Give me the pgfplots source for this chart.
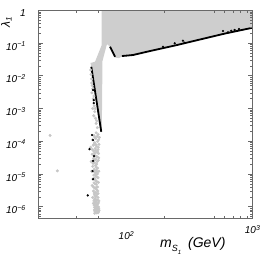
\documentclass[border=0pt]{standalone}
\usepackage{fontspec}
\setmainfont{Liberation Sans}
\usepackage{pgfplots}
\pgfplotsset{compat=1.18}
\definecolor{shade}{RGB}{206,206,206}
\definecolor{dotgray}{RGB}{198,198,198}
\definecolor{framec}{RGB}{105,105,105}
\begin{document}
\begin{tikzpicture}
\path[use as bounding box] (-38.3pt,-38.7pt) rectangle (227.7pt,218.3pt);
\begin{axis}[
  at={(0pt,0pt)}, anchor=south west,
  scale only axis, width=214.4pt, height=208pt,
  xmode=log, ymode=log,
  xmin=20, xmax=1000, ymin=4.4e-7, ymax=1,
  axis on top,
  axis line style={framec, line width=0.6pt},
  tick style={framec, line width=0.5pt},
  major tick length=4.5pt, minor tick length=2.5pt,
  xtick={100,1000},
  xticklabels={10\textsuperscript{2}, \raisebox{6pt}{10\textsuperscript{3}}},
  minor xtick={40,60,200,500,600,700,800,900},
  major x tick style={draw=none},
  ytick={1e-6,1e-5,1e-4,1e-3,1e-2,1e-1,1},
  yticklabels={10\textsuperscript{−6},10\textsuperscript{−5},10\textsuperscript{−4},10\textsuperscript{−3},10\textsuperscript{−2},10\textsuperscript{−1},1\hspace{-7pt}},
  minor ytick={5e-7,6e-7,7e-7,8e-7,9e-7,
    2e-6,3e-6,4e-6,5e-6,6e-6,7e-6,8e-6,9e-6,
    2e-5,3e-5,4e-5,5e-5,6e-5,7e-5,8e-5,9e-5,
    2e-4,3e-4,4e-4,5e-4,6e-4,7e-4,8e-4,9e-4,
    2e-3,3e-3,4e-3,5e-3,6e-3,7e-3,8e-3,9e-3,
    2e-2,3e-2,4e-2,5e-2,6e-2,7e-2,8e-2,9e-2,
    2e-1,3e-1,4e-1,5e-1,6e-1,7e-1,8e-1,9e-1},
  xticklabel style={font=\fontsize{10}{10}\selectfont\itshape, anchor=base, yshift=-21.5pt},
  yticklabel style={font=\fontsize{10}{10}\selectfont\itshape, xshift=-9pt, yshift=-3pt},
]
% allowed region
\addplot[fill=shade, draw=none] coordinates {
 (63.6,1) (1000,1) (1000,0.294) (603,0.195) (382,0.128) (241.8,0.0839)
 (153.5,0.0569) (112.5,0.043) (93.8,0.040) (87,0.0345) (81.1,0.036)
 (74.0,0.078) (70.0,0.093) (64.5,0.028) (63.7,1.9e-4) (62.2,1.9e-4)
 (52.6,0.0198) (51.8,0.0245) (56.3,0.0268) (63.6,0.0869)
} -- cycle;
% grey scattered points
\addplot[only marks, mark=*, mark size=1.3pt, color=dotgray] coordinates {
 (52.0,1.5e-2) (52.8,8e-3) (53.5,5e-3) (53.2,3e-3) (54.5,2e-3) (55.5,1.2e-3)
 (56.0,8e-4) (56.8,5e-4) (57.5,3.5e-4) (55.0,6e-4) (54.0,1e-3) (53.0,6e-3)
 (52.3,1.1e-2) (54.0,4e-3) (55.2,2.4e-3) (56.5,1.0e-3) (58.0,4.2e-4) (58.8,2.6e-4)
 (57.5,1.8e-4) (59.6,1.6e-4) (55.2,1.5e-4) (61.0,1.3e-4) (57.0,1.2e-4)
 (53.8,1.1e-4) (59.0,9.8e-5) (56.0,9.0e-5) (60.5,8.0e-5) (54.5,7.5e-5)
 (58.0,7.0e-5) (52.0,6.5e-5) (56.5,6.0e-5) (59.5,5.5e-5) (55.0,5.0e-5)
 (57.5,4.6e-5) (60.0,4.2e-5) (53.5,4.0e-5) (56.0,3.7e-5) (58.5,3.3e-5)
 (54.8,3.0e-5) (57.0,2.8e-5) (59.8,2.6e-5) (52.5,2.4e-5) (55.8,2.2e-5)
 (58.0,2.0e-5) (56.8,1.8e-5) (54.0,1.7e-5) (59.0,1.5e-5) (55.5,1.4e-5)
 (57.8,1.3e-5) (53.0,1.2e-5) (56.2,1.1e-5) (58.8,1.0e-5) (55.0,9.2e-6)
 (57.2,8.5e-6) (59.5,7.6e-6) (54.2,7.0e-6) (56.5,6.5e-6) (58.2,5.8e-6)
 (55.3,5.3e-6) (57.6,4.8e-6) (53.5,4.4e-6) (59.0,4.0e-6) (56.0,3.7e-6)
 (58.0,3.3e-6) (54.8,3.0e-6) (57.0,2.7e-6) (59.5,2.5e-6) (55.8,2.3e-6)
 (57.8,2.1e-6) (54.0,1.9e-6) (56.5,1.75e-6) (58.8,1.6e-6) (55.2,1.5e-6)
 (57.4,1.4e-6) (59.8,1.3e-6) (56.0,1.2e-6) (58.2,1.15e-6) (57.0,1.05e-6)
 (59.0,1.0e-6) (55.8,9.5e-7) (58.0,9.0e-7) (60.2,8.6e-7) (56.8,8.2e-7)
 (57.8,7.8e-7) (59.2,7.5e-7) (56.2,7.2e-7) (58.5,7.0e-7) (57.4,6.7e-7)
 (59.6,6.5e-7) (60.6,7.8e-7) (54.6,1.25e-6)
 (58.6,1.4e-4) (56.2,1.3e-4) (60.0,1.1e-4) (55.5,8.2e-5) (57.3,7.8e-5)
 (59.8,6.5e-5) (53.5,5.6e-5) (57.0,5.3e-5) (58.8,4.8e-5) (55.8,4.3e-5)
 (57.4,3.5e-5) (60.2,3.1e-5) (55.5,2.6e-5) (58.6,2.4e-5) (54.4,2.1e-5)
 (57.6,1.6e-5) (55.0,1.25e-5) (58.0,1.15e-5) (60.3,1.2e-5) (56.8,9.6e-6)
 (58.4,8.0e-6) (55.6,7.4e-6) (57.4,6.0e-6) (59.8,5.5e-6) (56.2,5.0e-6)
 (54.6,4.0e-6) (57.3,3.8e-6) (59.2,3.0e-6) (55.4,2.6e-6) (58.4,2.4e-6)
 (56.7,2.0e-6) (59.6,1.9e-6) (55.9,1.65e-6) (57.9,1.55e-6) (60.4,1.5e-6)
 (56.4,1.35e-6) (58.9,1.2e-6) (55.4,1.1e-6) (57.8,1.0e-6) (60.0,9.8e-7)
 (56.9,9.2e-7) (59.0,8.8e-7) (55.6,8.0e-7) (57.0,7.4e-7) (60.0,7.0e-7)
 (58.2,6.4e-7) (56.0,6.3e-7)
 (24.8,1.5e-4) (28.3,1.24e-5)
};
% boundary lines
\addplot[black, line width=1.8pt] coordinates {(52.6,0.0188) (63.1,1.94e-4)};
\addplot[black, line width=1.8pt] coordinates {(74.0,0.077) (81.1,0.038)};
\addplot[black, line width=1.8pt] coordinates {
 (92,0.040) (112.5,0.043) (153.5,0.0569) (241.8,0.0839) (382,0.128) (603,0.195) (1000,0.294)};
% black points
\addplot[only marks, mark=*, mark size=0.9pt, black] coordinates {
 (54.3,3.65e-3) (55.0,1.8e-3) (55.0,1.46e-3) (53.3,1.54e-4) (54.3,1.08e-4)
 (50.9,5.7e-5) (55.3,3.5e-5) (54.3,2.5e-5) (53.8,1.22e-5) (54.3,6.9e-6)
 (49.3,2.2e-6)
 (194.5,0.077) (241,0.098) (280,0.1175) (289,0.102) (582,0.233) (637,0.212)
 (676,0.238) (719,0.250) (778,0.268)
};
\end{axis}
\node[rotate=90, inner sep=0pt] at (-31.8pt,196.3pt) {\fontsize{12}{12}\selectfont\itshape λ\textsubscript{1}};
\node[anchor=base west, inner sep=0pt] at (121.7pt,-29.7pt) {\fontsize{14}{14}\selectfont\itshape m\raisebox{-4pt}{\fontsize{9}{9}\selectfont S\raisebox{-2.5pt}{\fontsize{6}{6}\selectfont 1}}\hspace{3pt} (GeV)};
\end{tikzpicture}
\end{document}
